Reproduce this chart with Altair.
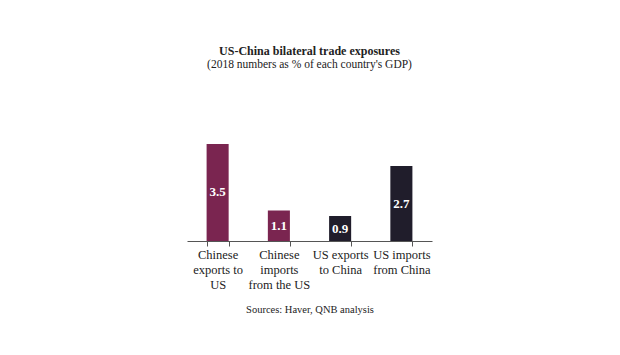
import altair as alt
import pandas as pd

categories = ["Chinese|exports to|US", "Chinese|imports|from the US", "US exports|to China", "US imports|from China"]
values = [3.5, 1.1, 0.9, 2.7]
groups = ["China", "China", "US", "US"]

df = pd.DataFrame({"cat": categories, "value": values, "group": groups})
df["label"] = df["value"].map(lambda v: f"{v:.1f}")

FONT = "Liberation Serif"

x = alt.X("cat:N", sort=categories,
          scale=alt.Scale(paddingInner=0.64, paddingOuter=0.32),
          axis=alt.Axis(title="Sources: Haver, QNB analysis", labelAngle=0,
                        labelExpr="split(datum.label, '|')",
                        labelFont=FONT, labelFontSize=12.5, labelColor="#222",
                        labelLineHeight=15, labelPadding=2,
                        tickBand="extent", tickSize=5, tickColor="#555",
                        domainColor="#555", titleFont=FONT, titleFontSize=10.5,
                        titleFontWeight="normal", titleColor="#222", titlePadding=14))
y = alt.Y("value:Q", scale=alt.Scale(domain=[0, 4]), axis=None)

bars = alt.Chart(df).mark_bar().encode(
    x=x, y=y,
    color=alt.Color("group:N", scale=alt.Scale(domain=["China", "US"], range=["#7a2550", "#201d2b"]), legend=None),
)
text = alt.Chart(df).transform_calculate(mid="datum.value/2").mark_text(
    color="white", font=FONT, fontWeight="bold", fontSize=13, baseline="middle"
).encode(x=alt.X("cat:N", sort=categories), y=alt.Y("mid:Q", scale=alt.Scale(domain=[0, 4]), axis=None), text="label:N")

chart = (bars + text).properties(
    width=245, height=111,
    title=alt.TitleParams(text="US-China bilateral trade exposures",
                          subtitle="(2018 numbers as % of each country's GDP)",
                          font=FONT, fontSize=12, fontWeight="bold", color="#222",
                          subtitleFont=FONT, subtitleFontSize=11.5, subtitleColor="#222",
                          subtitlePadding=1, offset=59, anchor="middle"),
    autosize=alt.AutoSizeParams(type="none"),
    padding={"left": 187, "top": 130, "right": 188, "bottom": 114},
).configure(background="white").configure_view(stroke=None)

chart.save("out.html", embed_options={"renderer": "svg", "actions": False})
